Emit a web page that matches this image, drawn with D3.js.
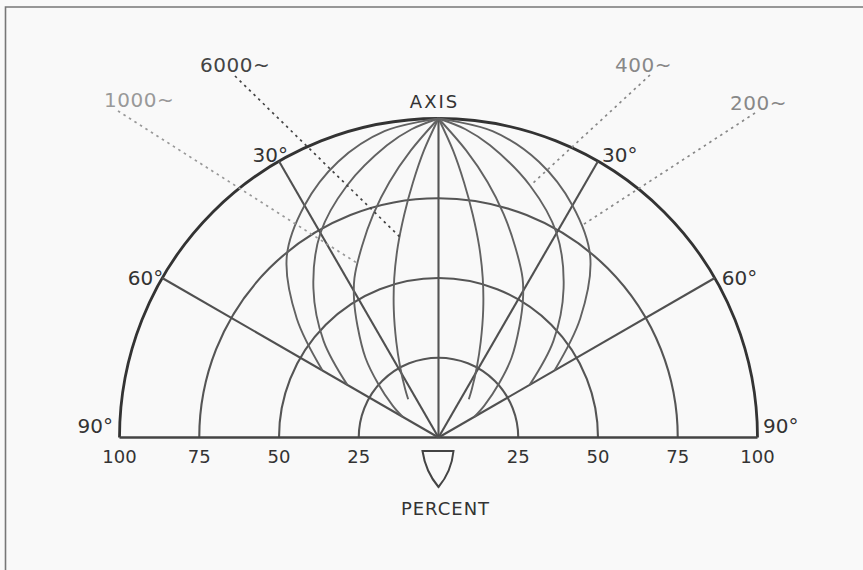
<!DOCTYPE html>
<html>
<head>
<meta charset="utf-8">
<script src="https://cdn.jsdelivr.net/npm/d3@7"></script>
<style>
  body { margin: 0; background: #f9f9f9; }
  svg { display: block; font-family: "DejaVu Sans", "Liberation Sans", sans-serif; }
</style>
</head>
<body>
<div id="container"></div>
<script>

const ringTicks = [25, 50, 75, 100];
const spokeAngles = [30, 60];
const angleLabels = ["30°", "60°", "90°"];

const freqLabels = ["200~", "400~", "1000~", "6000~"];

const angles200 = [0, 10, 20, 30, 40, 50, 60],
      resp200   = [100, 97.5, 92, 84, 74, 58, 42];
const angles400 = [0, 5, 10, 20, 30, 40, 50, 60],
      resp400   = [100, 97, 93, 84, 74, 61, 47, 33];
const angles1000 = [0, 5.5, 10.9, 16.3, 21.8, 27.8, 31.6, 36, 42.5, 48.2, 55.2, 60],
      resp1000   = [100, 90.4, 81.5, 72.9, 64.6, 56.5, 50.5, 43.2, 33.9, 25.5, 17.5, 13];
const angles6000 = [0, 2.9, 5.7, 8.7, 12, 15.5, 19.3, 23.8, 28.6, 34.7, 38.4],
      resp6000   = [100, 90.1, 80.4, 70.8, 61.3, 51.9, 42.4, 32.8, 25.1, 18.3, 15.3];

// ángulo (grados, negativo = lado izquierdo) donde apunta cada rótulo
const leaderAngles = [34, 20, -25, -11];

// 1. Medidas del SVG

const WIDTH = 863,
      HEIGHT = 570;

const center = { x: 438.5, y: 437.5 };
const R = 319;

const svg = d3.select('#container').append('svg')
    .attr("width", WIDTH).attr("height", HEIGHT);

svg.append("rect").attr("width", WIDTH).attr("height", HEIGHT).attr("fill", "#f9f9f9");

// marco del escaneo
svg.append("path")
    .attr("d", `M5.5,${HEIGHT} L5.5,7 L${WIDTH},7`)
    .attr("fill", "none").attr("stroke", "#777").attr("stroke-width", 1.6);

const chart = svg.append('g')
    .attr('transform', `translate(${center.x} ${center.y})`);

// 2. Escalas

const rScale = d3.scaleLinear().domain([0, 100]).range([0, R]);
const aScale = d3.scaleLinear().domain([0, 90]).range([0, Math.PI / 2]);

const series = [
    { label: freqLabels[0], angles: angles200, resp: resp200 },
    { label: freqLabels[1], angles: angles400, resp: resp400 },
    { label: freqLabels[2], angles: angles1000, resp: resp1000 },
    { label: freqLabels[3], angles: angles6000, resp: resp6000 }
];

const polar = (deg, r) => {
    const a = aScale(deg);
    return [rScale(r) * Math.sin(a), -rScale(r) * Math.cos(a)];
};

// 3. Anillos de porcentaje

ringTicks.forEach(t => {
    const p = d3.path();
    p.arc(0, 0, rScale(t), Math.PI, 2 * Math.PI);
    chart.append("path")
        .attr("d", p.toString())
        .attr("fill", "none")
        .attr("stroke", t === 100 ? "#333" : "#555")
        .attr("stroke-width", t === 100 ? 2.8 : 2.1);
});

// línea base (90°) y eje
chart.append("line")
    .attr("x1", -rScale(100)).attr("x2", rScale(100))
    .attr("y1", 0).attr("y2", 0)
    .attr("stroke", "#444").attr("stroke-width", 2.3);

chart.append("line")
    .attr("x1", 0).attr("x2", 0)
    .attr("y1", 0).attr("y2", -rScale(100))
    .attr("stroke", "#555").attr("stroke-width", 2.1);

// radios de 30° y 60°
spokeAngles.forEach(a => {
    [-1, 1].forEach(s => {
        const [x, y] = polar(s * a, 100);
        chart.append("line")
            .attr("x1", 0).attr("y1", 0)
            .attr("x2", x).attr("y2", y)
            .attr("stroke", "#505050").attr("stroke-width", 2.1);
    });
});

// 4. Curvas de directividad

const radial = d3.lineRadial()
    .angle(d => aScale(d[0]))
    .radius(d => rScale(d[1]))
    .curve(d3.curveCatmullRom.alpha(0.5));

series.forEach(s => {
    [-1, 1].forEach(side => {
        const pts = s.angles.map((a, i) => [side * a, s.resp[i]]);
        chart.append("path")
            .attr("d", radial(pts))
            .attr("fill", "none")
            .attr("stroke", "#626262")
            .attr("stroke-width", 1.9);
    });
});

// 5. Etiquetas de porcentaje

ringTicks.forEach(t => {
    [-1, 1].forEach(s => {
        chart.append("text")
            .attr("x", s * rScale(t))
            .attr("y", 25)
            .attr("text-anchor", "middle")
            .attr("font-size", 18)
            .attr("fill", "#333")
            .text(t);
    });
});

// etiquetas de ángulo (desplazamiento del texto respecto al punto sobre el anillo de 100)
const angleLabelPos = [
    { a: 30, dx: [9, 4], dy: 1 },
    { a: 60, dx: [1, 7], dy: 7 },
    { a: 90, dx: [-6.5, 5.5], dy: -4.5 }
];
angleLabelPos.forEach((d, i) => {
    [-1, 1].forEach((s, k) => {
        const [x, y] = polar(s * d.a, 100);
        chart.append("text")
            .attr("x", x + d.dx[k])
            .attr("y", y + d.dy)
            .attr("text-anchor", k === 0 ? "end" : "start")
            .attr("font-size", 20)
            .attr("fill", "#333")
            .text(angleLabels[i]);
    });
});

chart.append("text")
    .attr("x", -4).attr("y", -rScale(100) - 11)
    .attr("text-anchor", "middle")
    .attr("font-size", 18).attr("letter-spacing", 2)
    .attr("fill", "#333")
    .text("AXIS");

chart.append("text")
    .attr("x", 7).attr("y", 77)
    .attr("text-anchor", "middle")
    .attr("font-size", 18).attr("letter-spacing", 1)
    .attr("fill", "#333")
    .text("PERCENT");

// escudo bajo el centro
chart.append("path")
    .attr("d", "M-16,13.5 L15,13.5 Q13,34 0,49.5 Q-13,34 -16,13.5 Z")
    .attr("fill", "none").attr("stroke", "#444").attr("stroke-width", 2);

// 6. Rótulos de frecuencia con líneas guía punteadas

const rAt = (s, deg) => d3.scaleLinear().domain(s.angles).range(s.resp)(Math.abs(deg));

const labelPos = [
    { x: 730, y: 110, lx: 755, ly: 113, color: "#888" },
    { x: 615, y: 72, lx: 650, ly: 75, color: "#888" },
    { x: 104, y: 107, lx: 118, ly: 111, color: "#999" },
    { x: 200, y: 72, lx: 235, ly: 76, color: "#444" }
];

series.forEach((s, i) => {
    const lp = labelPos[i];
    const [tx, ty] = polar(leaderAngles[i], rAt(s, leaderAngles[i]));
    svg.append("line")
        .attr("x1", lp.lx).attr("y1", lp.ly)
        .attr("x2", center.x + tx).attr("y2", center.y + ty)
        .attr("stroke", lp.color)
        .attr("stroke-width", 1.7)
        .attr("stroke-dasharray", "2.5 4");
    svg.append("text")
        .attr("x", lp.x).attr("y", lp.y)
        .attr("font-size", 20)
        .attr("letter-spacing", 0.5)
        .attr("fill", lp.color)
        .text(s.label);
});
</script>
</body>
</html>
